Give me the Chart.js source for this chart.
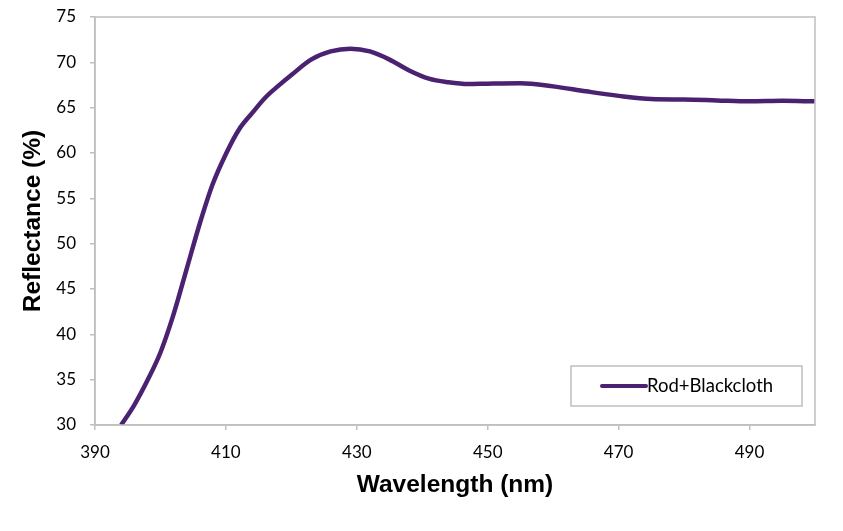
<!DOCTYPE html>
<html>
<head>
<meta charset="utf-8">
<script src="https://cdn.jsdelivr.net/npm/chart.js@4"></script>
<style>
  html, body { margin: 0; padding: 0; background: #fff; }
  #wrap { width: 843px; height: 531px; }
</style>
</head>
<body>
<div id="wrap"><canvas id="chart" width="843" height="531"></canvas></div>
<script>
// 波長 (nm)
const wavelengths = [394, 396, 398, 400, 402, 404, 406, 408, 410, 412, 414, 416, 418, 420,
  423, 426, 429, 432, 435, 438, 441, 444, 447, 450, 455, 460, 465, 470, 475, 480, 485, 490, 495, 500];

// 反射率 (%)
const reflectance = [30.0, 32.2, 34.9, 38.0, 42.2, 47.2, 52.2, 56.6, 59.9, 62.6, 64.4, 66.1, 67.4, 68.6,
  70.3, 71.2, 71.5, 71.2, 70.3, 69.1, 68.2, 67.8, 67.6, 67.65, 67.7, 67.35, 66.8, 66.3, 65.95, 65.9, 65.8, 65.7, 65.75, 65.7];

const seriesLabel = 'Rod+Blackcloth';

// 目盛り
const xTicks = [390, 410, 430, 450, 470, 490];
const yTicks = [30, 35, 40, 45, 50, 55, 60, 65, 70, 75];

const lineColor = '#4b2171';
const frameColor = '#bfbfbf';

// プロット枠と凡例を描く
const framePlugin = {
  id: 'frame',
  afterDraw(chart) {
    const { ctx, chartArea } = chart;
    ctx.save();
    ctx.strokeStyle = frameColor;
    ctx.lineWidth = 1.5;
    ctx.strokeRect(chartArea.left, chartArea.top, chartArea.right - chartArea.left, chartArea.bottom - chartArea.top);

    // 凡例
    const ds = chart.data.datasets[0];
    const bx = chartArea.right - 244, by = chartArea.bottom - 59, bw = 231, bh = 40;
    ctx.fillStyle = '#fff';
    ctx.fillRect(bx, by, bw, bh);
    ctx.strokeRect(bx, by, bw, bh);
    ctx.strokeStyle = ds.borderColor;
    ctx.lineWidth = 4;
    ctx.lineCap = 'round';
    ctx.beginPath();
    ctx.moveTo(bx + 31, by + bh / 2);
    ctx.lineTo(bx + 75, by + bh / 2);
    ctx.stroke();
    ctx.fillStyle = '#000';
    ctx.font = '18.5px Lato';
    ctx.textBaseline = 'middle';
    ctx.fillText(ds.label, bx + 76, by + bh / 2);
    ctx.restore();
  }
};

const ctx = document.getElementById('chart').getContext('2d');

new Chart(ctx, {
  type: 'line',
  data: {
    datasets: [{
      label: seriesLabel,
      data: wavelengths.map((w, i) => ({ x: w, y: reflectance[i] })),
      borderColor: lineColor,
      borderWidth: 4.5,
      pointRadius: 0,
      tension: 0.4,
      cubicInterpolationMode: 'monotone',
      fill: false
    }]
  },
  options: {
    responsive: false,
    animation: false,
    devicePixelRatio: 1,
    layout: {
      padding: { top: 17, right: 28, left: 0, bottom: 0 }
    },
    scales: {
      x: {
        type: 'linear',
        min: 390,
        max: 500,
        afterBuildTicks: axis => { axis.ticks = xTicks.map(v => ({ value: v })); },
        afterFit: axis => { axis.height = 106; },
        grid: { display: true, drawOnChartArea: false, tickLength: 5, color: frameColor, lineWidth: 1.5 },
        border: { display: true, color: frameColor, width: 1.5 },
        ticks: { color: '#000', font: { family: 'Lato', size: 17 }, padding: 12, maxRotation: 0 },
        title: {
          display: true,
          text: 'Wavelength (nm)',
          color: '#000',
          font: { family: 'Liberation Sans', size: 24.5, weight: 'bold' },
          padding: { top: 0, bottom: 31 }
        }
      },
      y: {
        min: 30,
        max: 75,
        afterBuildTicks: axis => { axis.ticks = yTicks.map(v => ({ value: v })); },
        afterFit: axis => {
          axis.width = 95;
          axis.paddingTop = 0;
          axis.paddingBottom = 0;
        },
        grid: { display: true, drawOnChartArea: false, tickLength: 5, color: frameColor, lineWidth: 1.5 },
        border: { display: true, color: frameColor, width: 1.5 },
        ticks: { color: '#000', font: { family: 'Lato', size: 17 }, padding: 14 },
        title: {
          display: true,
          text: 'Reflectance (%)',
          color: '#000',
          font: { family: 'Liberation Sans', size: 24.5, weight: 'bold' },
          padding: { top: 19, bottom: 0 }
        }
      }
    },
    plugins: {
      legend: { display: false },
      tooltip: { enabled: false }
    }
  },
  plugins: [framePlugin]
});
</script>
</body>
</html>
